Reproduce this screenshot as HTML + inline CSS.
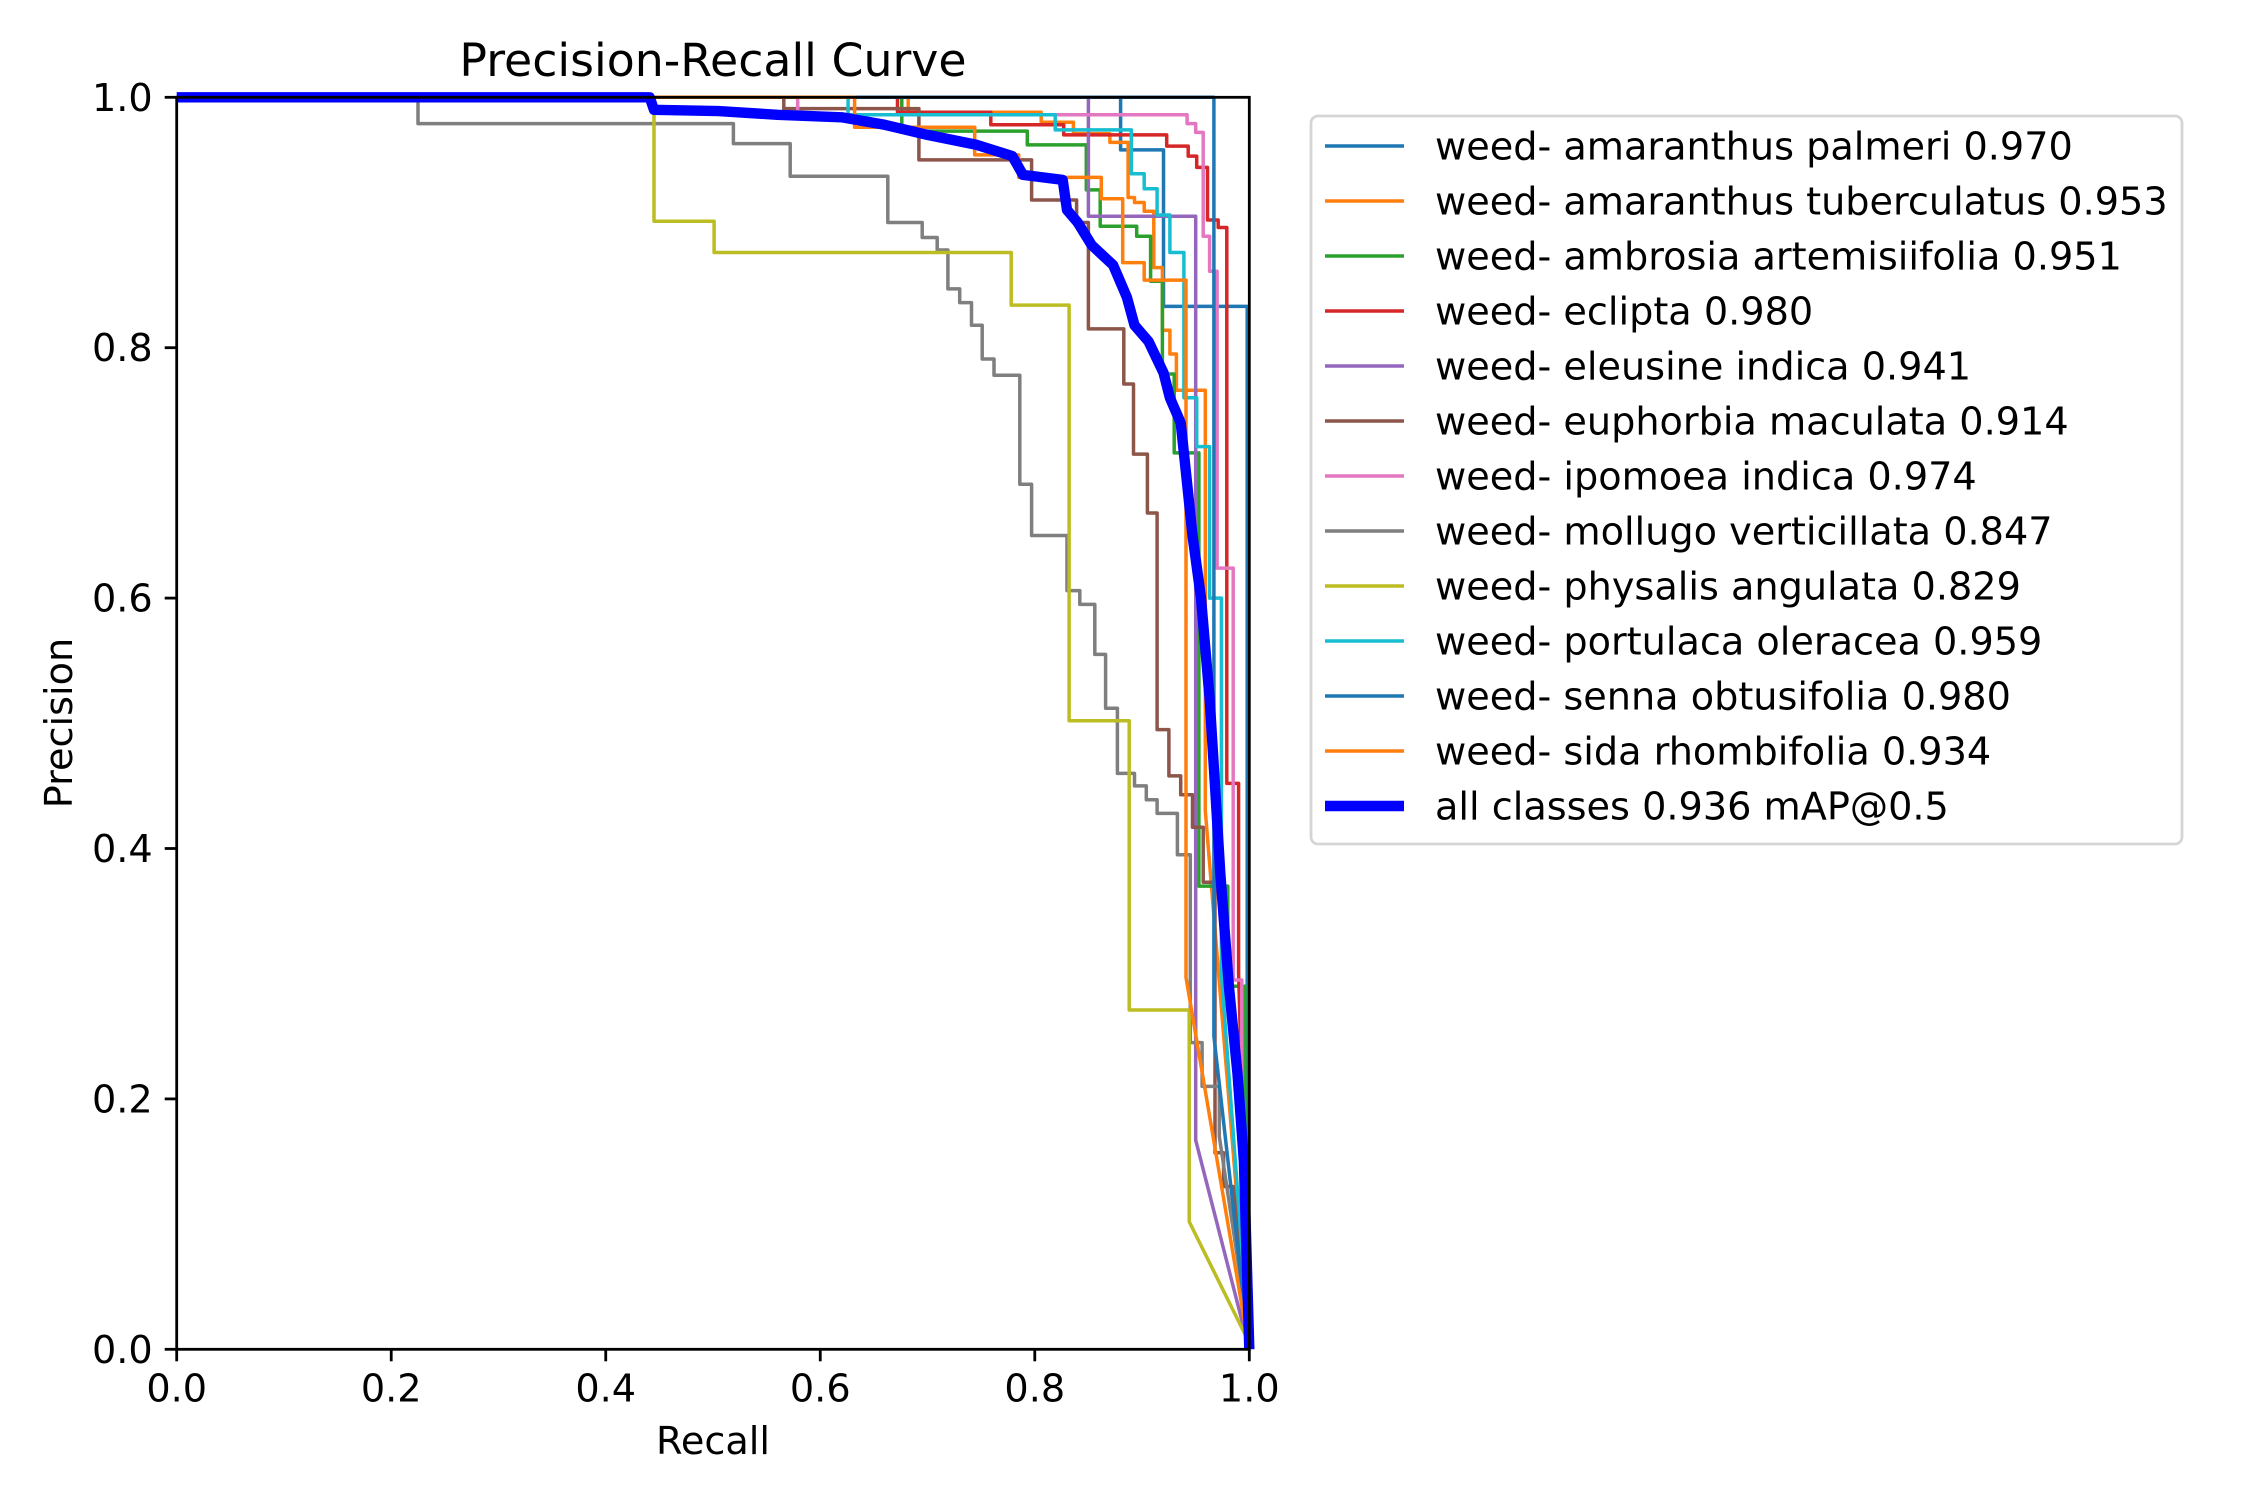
<!DOCTYPE html>
<html><head><meta charset="utf-8"><style>
html,body{margin:0;padding:0;background:#fff;}
svg{display:block;font-family:"DejaVu Sans","Liberation Sans",sans-serif;}
</style></head><body>
<svg id="chart" width="2250" height="1500" viewBox="0 0 2250 1500" xmlns="http://www.w3.org/2000/svg">
<rect x="0" y="0" width="2250" height="1500" fill="#fff"/>
<text x="713" y="76" font-size="45.8" text-anchor="middle">Precision-Recall Curve</text>
<text x="713" y="1454" font-size="38.2" text-anchor="middle">Recall</text>
<text x="0" y="0" font-size="38.2" text-anchor="middle" transform="translate(72,723) rotate(-90)">Precision</text>
<g id="ticks"></g>
<g id="series"></g>
<rect x="176.7" y="97.3" width="1072.6" height="1252" fill="none" stroke="#000" stroke-width="2.8"/>
<g id="legend"></g>
</svg>
<script>
const xTicks = [0, 0.2, 0.4, 0.6, 0.8, 1.0];
const yTicks = [0, 0.2, 0.4, 0.6, 0.8, 1.0];
const tickLabels = ["0.0", "0.2", "0.4", "0.6", "0.8", "1.0"];

const palmeriR = [0, 0.880, 0.880, 0.920, 0.920, 0.998, 0.998];
const palmeriP = [1, 1, 0.958, 0.958, 0.833, 0.833, 0];
const tuberR = [0, 0.682, 0.682, 0.806, 0.806, 0.836, 0.836, 0.870, 0.870, 0.887, 0.887, 0.893, 0.893, 0.902, 0.902, 0.911, 0.911, 0.919, 0.919, 0.926, 0.926, 0.932, 0.932, 0.959, 0.959, 1];
const tuberP = [1, 1, 0.988, 0.988, 0.980, 0.980, 0.971, 0.971, 0.964, 0.964, 0.920, 0.920, 0.916, 0.916, 0.909, 0.909, 0.864, 0.864, 0.814, 0.814, 0.795, 0.795, 0.766, 0.766, 0.43, 0];
const ambrosiaR = [0, 0.676, 0.676, 0.793, 0.793, 0.848, 0.848, 0.861, 0.861, 0.895, 0.895, 0.908, 0.908, 0.919, 0.919, 0.930, 0.930, 0.953, 0.953, 0.980, 0.980, 0.996, 0.996, 1];
const ambrosiaP = [1, 1, 0.973, 0.973, 0.962, 0.962, 0.926, 0.926, 0.897, 0.897, 0.889, 0.889, 0.853, 0.853, 0.779, 0.779, 0.716, 0.716, 0.37, 0.37, 0.29, 0.29, 0.15, 0];
const ecliptaR = [0, 0.672, 0.672, 0.759, 0.759, 0.827, 0.827, 0.923, 0.923, 0.943, 0.943, 0.951, 0.951, 0.961, 0.961, 0.971, 0.971, 0.979, 0.979, 0.990, 0.990, 1];
const ecliptaP = [1, 1, 0.988, 0.988, 0.978, 0.978, 0.970, 0.970, 0.961, 0.961, 0.953, 0.953, 0.944, 0.944, 0.902, 0.902, 0.896, 0.896, 0.452, 0.452, 0.30, 0];
const eleusineR = [0, 0.850, 0.850, 0.950, 0.950, 1];
const eleusineP = [1, 1, 0.905, 0.905, 0.167, 0];
const euphorbiaR = [0, 0.566, 0.566, 0.692, 0.692, 0.797, 0.797, 0.839, 0.839, 0.850, 0.850, 0.883, 0.883, 0.892, 0.892, 0.905, 0.905, 0.914, 0.914, 0.925, 0.925, 0.936, 0.936, 0.947, 0.947, 0.957, 0.957, 0.968, 0.968, 0.976, 0.976, 0.985, 1];
const euphorbiaP = [1, 1, 0.991, 0.991, 0.950, 0.950, 0.918, 0.918, 0.900, 0.900, 0.815, 0.815, 0.771, 0.771, 0.715, 0.715, 0.668, 0.668, 0.495, 0.495, 0.458, 0.458, 0.443, 0.443, 0.417, 0.417, 0.373, 0.373, 0.157, 0.157, 0.130, 0.130, 0.01];
const ipomoeaR = [0, 0.579, 0.579, 0.942, 0.942, 0.950, 0.950, 0.957, 0.957, 0.963, 0.963, 0.970, 0.970, 0.985, 0.985, 0.993, 0.993, 1];
const ipomoeaP = [1, 1, 0.986, 0.986, 0.979, 0.979, 0.972, 0.972, 0.889, 0.889, 0.861, 0.861, 0.624, 0.624, 0.295, 0.295, 0.12, 0];
const mollugoR = [0, 0.225, 0.225, 0.519, 0.519, 0.572, 0.572, 0.663, 0.663, 0.695, 0.695, 0.709, 0.709, 0.719, 0.719, 0.730, 0.730, 0.741, 0.741, 0.751, 0.751, 0.762, 0.762, 0.786, 0.786, 0.797, 0.797, 0.830, 0.830, 0.842, 0.842, 0.856, 0.856, 0.866, 0.866, 0.877, 0.877, 0.893, 0.893, 0.904, 0.904, 0.914, 0.914, 0.933, 0.933, 0.945, 0.945, 0.956, 0.956, 0.972, 0.972, 1];
const mollugoP = [1, 1, 0.979, 0.979, 0.963, 0.963, 0.937, 0.937, 0.900, 0.900, 0.888, 0.888, 0.878, 0.878, 0.847, 0.847, 0.836, 0.836, 0.818, 0.818, 0.791, 0.791, 0.778, 0.778, 0.691, 0.691, 0.650, 0.650, 0.606, 0.606, 0.595, 0.595, 0.555, 0.555, 0.512, 0.512, 0.460, 0.460, 0.450, 0.450, 0.439, 0.439, 0.428, 0.428, 0.395, 0.395, 0.245, 0.245, 0.21, 0.21, 0.17, 0.01];
const physalisR = [0, 0.445, 0.445, 0.501, 0.501, 0.778, 0.778, 0.832, 0.832, 0.888, 0.888, 0.944, 0.944, 1];
const physalisP = [1, 1, 0.901, 0.901, 0.876, 0.876, 0.834, 0.834, 0.502, 0.502, 0.271, 0.271, 0.102, 0.005];
const portulacaR = [0, 0.626, 0.626, 0.819, 0.819, 0.890, 0.890, 0.902, 0.902, 0.914, 0.914, 0.926, 0.926, 0.939, 0.939, 0.951, 0.951, 0.963, 0.963, 0.974, 0.974, 1];
const portulacaP = [1, 1, 0.986, 0.986, 0.974, 0.974, 0.939, 0.939, 0.927, 0.927, 0.906, 0.906, 0.876, 0.876, 0.760, 0.760, 0.721, 0.721, 0.600, 0.600, 0.30, 0];
const sennaR = [0, 0.967, 0.967, 1];
const sennaP = [1, 1, 0.25, 0];
const sidaR = [0, 0.632, 0.632, 0.744, 0.744, 0.785, 0.785, 0.862, 0.862, 0.882, 0.882, 0.902, 0.902, 0.941, 0.941, 1];
const sidaP = [1, 1, 0.976, 0.976, 0.954, 0.954, 0.936, 0.936, 0.919, 0.919, 0.868, 0.868, 0.854, 0.854, 0.297, 0];
const allR = [0, 0.441, 0.445, 0.505, 0.560, 0.620, 0.660, 0.700, 0.746, 0.779, 0.789, 0.826, 0.830, 0.840, 0.853, 0.873, 0.886, 0.893, 0.906, 0.920, 0.926, 0.936, 0.941, 0.947, 0.955, 0.963, 0.968, 0.973, 0.981, 0.989, 0.995, 1];
const allP = [1, 1, 0.990, 0.989, 0.986, 0.984, 0.978, 0.970, 0.962, 0.953, 0.938, 0.934, 0.910, 0.900, 0.882, 0.866, 0.840, 0.818, 0.805, 0.780, 0.760, 0.740, 0.700, 0.650, 0.600, 0.520, 0.450, 0.380, 0.290, 0.220, 0.150, 0];

const seriesLabels = ["weed- amaranthus palmeri 0.970","weed- amaranthus tuberculatus 0.953","weed- ambrosia artemisiifolia 0.951","weed- eclipta 0.980","weed- eleusine indica 0.941","weed- euphorbia maculata 0.914","weed- ipomoea indica 0.974","weed- mollugo verticillata 0.847","weed- physalis angulata 0.829","weed- portulaca oleracea 0.959","weed- senna obtusifolia 0.980","weed- sida rhombifolia 0.934","all classes 0.936 mAP@0.5"];
const seriesR = [palmeriR, tuberR, ambrosiaR, ecliptaR, eleusineR, euphorbiaR, ipomoeaR, mollugoR, physalisR, portulacaR, sennaR, sidaR, allR];
const seriesP = [palmeriP, tuberP, ambrosiaP, ecliptaP, eleusineP, euphorbiaP, ipomoeaP, mollugoP, physalisP, portulacaP, sennaP, sidaP, allP];
const colors = ["#1f77b4","#ff7f0e","#2ca02c","#d62728","#9467bd","#8c564b","#e377c2","#7f7f7f","#bcbd22","#17becf","#1f77b4","#ff7f0e","#0000ff"];
const seriesNames = ["amaranthus-palmeri","amaranthus-tuberculatus","ambrosia-artemisiifolia","eclipta","eleusine-indica","euphorbia-maculata","ipomoea-indica","mollugo-verticillata","physalis-angulata","portulaca-oleracea","senna-obtusifolia","sida-rhombifolia","all-classes"];

const NS = "http://www.w3.org/2000/svg";
const X0 = 176.7, X1 = 1249.3, Y0 = 1349.3, Y1 = 97.3;
function xScale(v){ return X0 + v * (X1 - X0); }
function yScale(v){ return Y0 - v * (Y0 - Y1); }
function mk(tag, attrs, parent){ const e = document.createElementNS(NS, tag); for (const k in attrs) e.setAttribute(k, attrs[k]); parent.appendChild(e); return e; }

const ticks = document.getElementById('ticks');
xTicks.forEach((v, i) => {
  const t = mk('line', {x1: xScale(v), x2: xScale(v), y1: Y0, y2: Y0 + 12, stroke: '#000', 'stroke-width': 2.8}, ticks);
  
  
  const l = mk('text', {x: xScale(v), y: Y0 + 52, 'font-size': 38.2, 'text-anchor': 'middle'}, ticks);
  l.textContent = tickLabels[i];
  
  
});
yTicks.forEach((v, i) => {
  const t = mk('line', {x1: X0 - 12, x2: X0, y1: yScale(v), y2: yScale(v), stroke: '#000', 'stroke-width': 2.8}, ticks);
  
  
  const l = mk('text', {x: X0 - 24, y: yScale(v) + 13.5, 'font-size': 38.2, 'text-anchor': 'end'}, ticks);
  l.textContent = tickLabels[i];
  
  
});

const sg = document.getElementById('series');
seriesR.forEach((rs, i) => {
  const ps = seriesP[i];
  const pts = rs.map((r, j) => xScale(r).toFixed(1) + ',' + yScale(ps[j]).toFixed(1)).join(' ');
  const last = i === seriesR.length - 1;
  const pl = mk('polyline', {points: pts, fill: 'none', stroke: colors[i], 'stroke-width': last ? 10.4 : 3.5, 'stroke-linejoin': 'round'}, sg);
  
  
});

const lg = document.getElementById('legend');
const box = mk('rect', {x: 1311, y: 116, width: 871, height: 728, rx: 7, fill: '#fff', 'fill-opacity': 0.8, stroke: '#d5d5d5', 'stroke-width': 2.8}, lg);


seriesLabels.forEach((lab, i) => {
  const y = 146 + 55 * i;
  const last = i === seriesLabels.length - 1;
  const ln = mk('line', {x1: 1325, x2: 1404, y1: y, y2: y, stroke: colors[i], 'stroke-width': last ? 10.4 : 3.5}, lg);
  
  
  const t = mk('text', {x: 1435, y: y + 13.5, 'font-size': 38.2}, lg);
  t.textContent = lab;
  
  
});
</script>
</body></html>
